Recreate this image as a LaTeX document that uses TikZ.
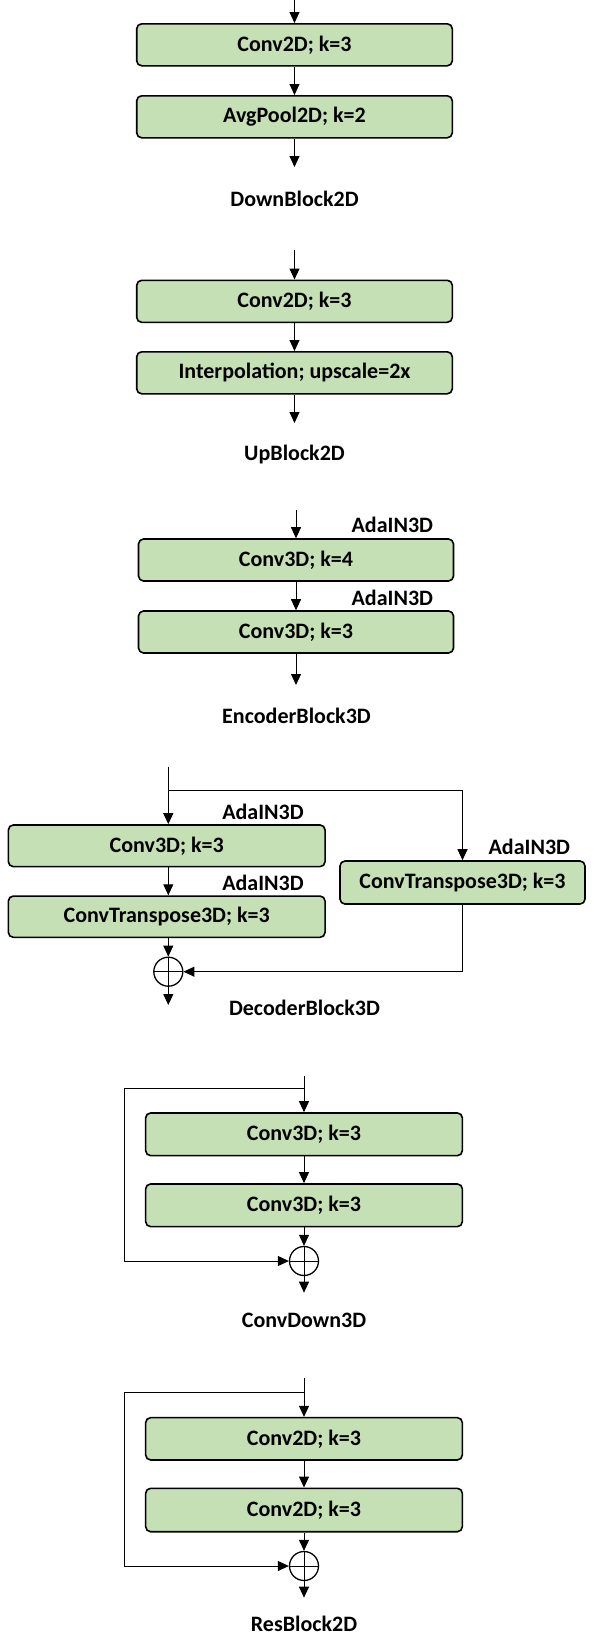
\documentclass[tikz,border=0pt]{standalone}
\usepackage{fontspec}
\setmainfont{Carlito}
\usetikzlibrary{arrows.meta}
\definecolor{boxgreen}{HTML}{C5E0B4}
\begin{document}
\begin{tikzpicture}[x=1pt,y=-1pt,
  font=\fontsize{22}{26}\selectfont\bfseries,
  blk/.style={draw=black, line width=1.6pt, fill=boxgreen, rounded corners=5pt,
    inner sep=0pt, minimum width=315.6pt, minimum height=42pt},
  lbl/.style={inner sep=0pt},
  conn/.style={line width=1pt, -{Triangle[width=10pt,length=11pt]}},
  line/.style={line width=1pt},
  sumnode/.style={circle, draw=black, line width=1.3pt, inner sep=0pt, minimum size=29pt,
    path picture={\draw[line width=1pt] (path picture bounding box.north) -- (path picture bounding box.south)
      (path picture bounding box.west) -- (path picture bounding box.east);}}]
\useasboundingbox (0,0) rectangle (594,1652);

% DownBlock2D
\coordinate (ain) at (294.5,0);
\node[blk] (a1) at (294.5,44.8) {Conv2D; k=3};
\node[blk] (a2) at (294.5,116.8) {AvgPool2D; k=2};
\coordinate (aout) at (294.5,167);
\node[lbl] (alab) at (294.5,199) {DownBlock2D};
\draw[conn] (ain) -- (a1.north);
\draw[conn] (a1.south) -- (a2.north);
\draw[conn] (a2.south) -- (aout);

% UpBlock2D
\coordinate (bin) at (294.5,250);
\node[blk] (b1) at (294.5,301.3) {Conv2D; k=3};
\node[blk] (b2) at (294.5,372.8) {Interpolation; upscale=2x};
\coordinate (bout) at (294.5,423);
\node[lbl] (blab) at (294.5,455) {UpBlock2D};
\draw[conn] (bin) -- (b1.north);
\draw[conn] (b1.south) -- (b2.north);
\draw[conn] (b2.south) -- (bout);

% EncoderBlock3D
\coordinate (cin) at (296,510);
\node[blk, minimum width=315pt] (c1) at (296,560) {Conv3D; k=4};
\node[blk, minimum width=315pt] (c2) at (296,632) {Conv3D; k=3};
\coordinate (cout) at (296,685);
\node[lbl] (clab) at (296.5,716) {EncoderBlock3D};
\node[lbl] (cada1) at (392.3,525) {AdaIN3D};
\node[lbl] (cada2) at (392.3,597.7) {AdaIN3D};
\draw[conn] (cin) -- (c1.north);
\draw[conn] (c1.south) -- (c2.north);
\draw[conn] (c2.south) -- (cout);

% DecoderBlock3D
\coordinate (din) at (168.3,766.7);
\coordinate (dj) at (168.3,790);
\node[blk, minimum width=316.7pt, minimum height=41.7pt] (d1) at (166.7,845.8) {Conv3D; k=3};
\node[blk, minimum width=316.7pt, minimum height=41.3pt] (d2) at (166.7,916.7) {ConvTranspose3D; k=3};
\node[blk, minimum width=245pt, minimum height=43pt] (d3) at (462.5,882.5) {ConvTranspose3D; k=3};
\node[sumnode] (ds) at (168.3,971.7) {};
\coordinate (dout) at (168.3,1005);
\node[lbl] (dlab) at (304.5,1008) {DecoderBlock3D};
\node[lbl] (dada1) at (263,811.7) {AdaIN3D};
\node[lbl] (dada2) at (263,883.3) {AdaIN3D};
\node[lbl] (dada3) at (529.3,847.3) {AdaIN3D};
\draw[conn] (din) -- (din |- d1.north);
\draw[conn] (din |- d1.south) -- (din |- d2.north);
\draw[conn] (din |- d2.south) -- (ds.north);
\draw[conn] (dj) -| (d3.north);
\draw[conn] (d3.south) |- (ds.east);
\draw[conn] (ds.south) -- (dout);

% ConvDown3D
\coordinate (ein) at (304,1076);
\coordinate (ej) at (304,1088);
\node[blk, minimum width=316.7pt, minimum height=42.7pt] (e1) at (304,1134.3) {Conv3D; k=3};
\node[blk, minimum width=316.7pt, minimum height=42.7pt] (e2) at (304,1205.3) {Conv3D; k=3};
\node[sumnode] (es) at (304,1261) {};
\coordinate (eleft) at (124,1088);
\coordinate (eout) at (304,1292.7);
\node[lbl] (elab) at (304,1320) {ConvDown3D};
\draw[conn] (ein) -- (e1.north);
\draw[conn] (e1.south) -- (e2.north);
\draw[conn] (e2.south) -- (es.north);
\draw[line] (ej) -- (eleft);
\draw[conn] (eleft) |- (es.west);
\draw[conn] (es.south) -- (eout);

% ResBlock2D
\coordinate (fin) at (304,1378);
\coordinate (fj) at (304,1392.7);
\node[blk, minimum width=316.7pt, minimum height=42.3pt] (f1) at (304,1438.8) {Conv2D; k=3};
\node[blk, minimum width=316.7pt, minimum height=43.4pt] (f2) at (304,1510) {Conv2D; k=3};
\node[sumnode] (fs) at (304,1566) {};
\coordinate (fleft) at (124,1392.7);
\coordinate (fout) at (304,1597.7);
\node[lbl] (flab) at (304,1624) {ResBlock2D};
\draw[conn] (fin) -- (f1.north);
\draw[conn] (f1.south) -- (f2.north);
\draw[conn] (f2.south) -- (fs.north);
\draw[line] (fj) -- (fleft);
\draw[conn] (fleft) |- (fs.west);
\draw[conn] (fs.south) -- (fout);
\end{tikzpicture}
\end{document}
